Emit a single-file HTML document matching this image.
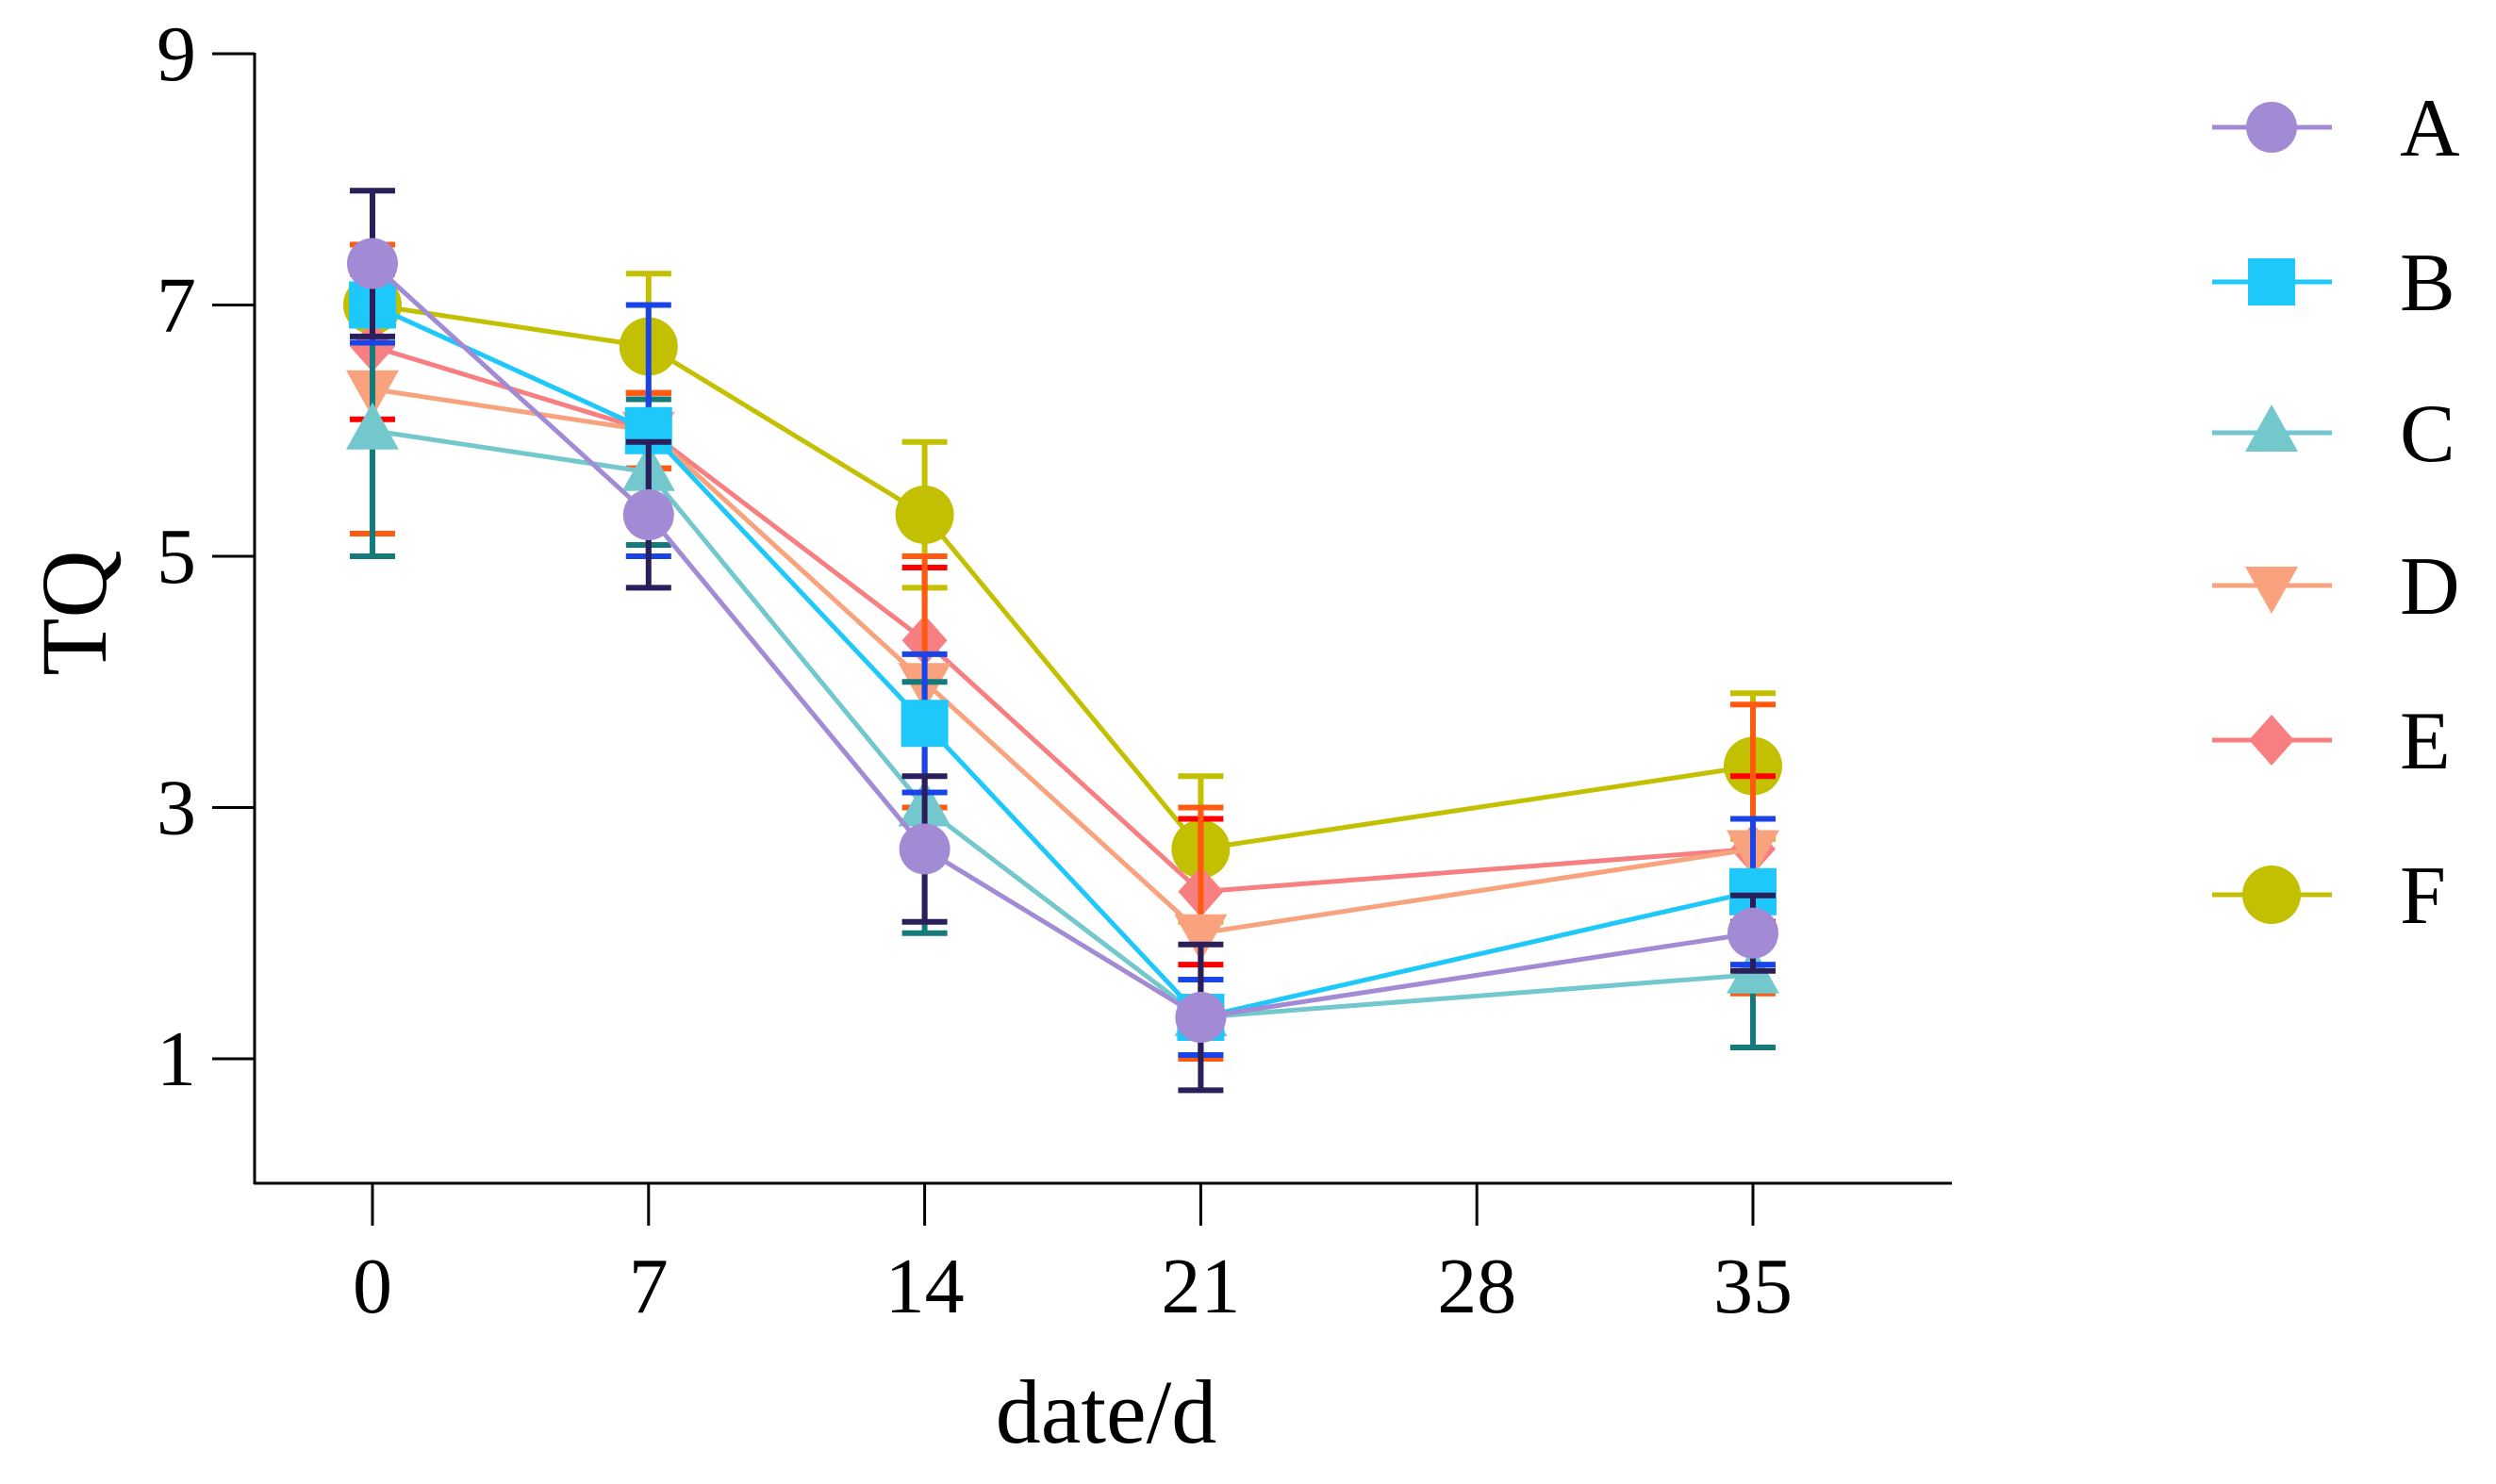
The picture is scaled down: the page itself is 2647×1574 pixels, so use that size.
<!DOCTYPE html>
<html><head><meta charset="utf-8"><style>
html,body{margin:0;padding:0;background:#fff;}
svg text{font-family:"Liberation Serif",serif;fill:#000;}
</style></head><body>
<svg id="chart" width="2647" height="1569" viewBox="0 0 2647 1569" xmlns="http://www.w3.org/2000/svg">
<g id="axes"></g>
<g id="series"></g>
<g id="legend"></g>
</svg>
<script>
const days = [0, 7, 14, 21, 35];
const xTicks = [0, 7, 14, 21, 28, 35];
const yTicks = [1, 3, 5, 7, 9];
const seriesNames = ['A', 'B', 'C', 'D', 'E', 'F'];
const valA = [7.33, 5.33, 2.67, 1.33, 2.0];
const valB = [7.0, 6.0, 3.67, 1.33, 2.33];
const valC = [6.0, 5.67, 3.0, 1.33, 1.67];
const valD = [6.33, 6.0, 4.0, 2.0, 2.67];
const valE = [6.67, 6.0, 4.33, 2.33, 2.67];
const valF = [7.0, 6.67, 5.33, 2.67, 3.33];
const errA = [0.58, 0.58, 0.58, 0.58, 0.3];
const errB = [0.3, 1.0, 0.55, 0.3, 0.58];
const errC = [1.0, 0.58, 1.0, 0.3, 0.58];
const errD = [1.15, 0.3, 1.0, 1.0, 1.15];
const errE = [0.58, 0.3, 0.58, 0.58, 0.58];
const errF = [0.3, 0.58, 0.58, 0.58, 0.58];

const NS = 'http://www.w3.org/2000/svg';
const X0 = 395, XPU = (1859 - 395) / 35;
const Y9 = 57, Y1 = 1123, YPU = (Y1 - Y9) / 8;
const xs = d => X0 + d * XPU;
const ys = v => Y1 - (v - 1) * YPU;
function mk(tag, attrs, parent) {
  const e = document.createElementNS(NS, tag);
  for (const k in attrs) e.setAttribute(k, attrs[k]);
  parent.appendChild(e);
  return e;
}
const axes = document.getElementById('axes');
let el;
el = mk('line', {x1: 270, y1: 56, x2: 270, y2: 1256, stroke: '#000', 'stroke-width': 3}, axes);


el = mk('line', {x1: 269, y1: 1255, x2: 2070, y2: 1255, stroke: '#000', 'stroke-width': 3}, axes);


yTicks.forEach(t => {
  const y = ys(t);
  const tk = mk('line', {x1: 225, y1: y, x2: 270, y2: y, stroke: '#000', 'stroke-width': 3}, axes);
  
  
  const tx = mk('text', {x: 208, y: y + 28, 'font-size': 84, 'text-anchor': 'end'}, axes);
  tx.textContent = t;
  
  
});
xTicks.forEach(t => {
  const x = xs(t);
  const tk = mk('line', {x1: x, y1: 1255, x2: x, y2: 1300, stroke: '#000', 'stroke-width': 3}, axes);
  
  
  const tx = mk('text', {x: x, y: 1392, 'font-size': 84, 'text-anchor': 'middle'}, axes);
  tx.textContent = t;
  
  
});
el = mk('text', {x: 1173, y: 1530, 'font-size': 96, 'text-anchor': 'middle'}, axes);
el.textContent = 'date/d';


el = mk('text', {x: 0, y: 0, 'font-size': 100, 'text-anchor': 'middle', transform: 'translate(112,650) rotate(-90)'}, axes);
el.textContent = 'TQ';



const vals = {A: valA, B: valB, C: valC, D: valD, E: valE, F: valF};
const errs = {A: errA, B: errB, C: errC, D: errD, E: errE, F: errF};
const colors = {A: '#a28bd4', B: '#1ec8fa', C: '#72c8cc', D: '#f9a27e', E: '#f77f82', F: '#c2c000'};
const errColors = {A: '#2a1f5a', B: '#1a44e8', C: '#157a7a', D: '#ff5a10', E: '#ff0000', F: '#c2c000'};
const shapes = {A: 'circle', B: 'square', C: 'tri-up', D: 'tri-down', E: 'diamond', F: 'bigcircle'};

function marker(shape, cx, cy, color, parent) {
  if (shape === 'circle') return mk('circle', {cx, cy, r: 27, fill: color}, parent);
  if (shape === 'bigcircle') return mk('circle', {cx, cy, r: 31, fill: color}, parent);
  if (shape === 'square') return mk('rect', {x: cx - 25, y: cy - 25, width: 50, height: 50, fill: color}, parent);
  if (shape === 'tri-up') return mk('polygon', {points: `${cx},${cy - 30} ${cx + 28},${cy + 20} ${cx - 28},${cy + 20}`, fill: color}, parent);
  if (shape === 'tri-down') return mk('polygon', {points: `${cx},${cy + 30} ${cx + 28},${cy - 20} ${cx - 28},${cy - 20}`, fill: color}, parent);
  return mk('polygon', {points: `${cx},${cy - 27} ${cx + 24},${cy} ${cx},${cy + 27} ${cx - 24},${cy}`, fill: color}, parent);
}

const sg = document.getElementById('series');
['F', 'E', 'D', 'C', 'B', 'A'].forEach(n => {
  const g = mk('g', {}, sg);
  
  
  const v = vals[n], e = errs[n];
  const pts = days.map((d, i) => xs(d) + ',' + ys(v[i])).join(' ');
  const ln = mk('polyline', {points: pts, fill: 'none', stroke: colors[n], 'stroke-width': 5}, g);
  
  
  days.forEach((d, i) => {
    const x = xs(d), yt = ys(v[i] + e[i]), yb = ys(v[i] - e[i]);
    const eb = mk('path', {d: `M${x},${yt}V${yb}M${x - 24},${yt}H${x + 24}M${x - 24},${yb}H${x + 24}`, stroke: errColors[n], 'stroke-width': 6, fill: 'none'}, g);
    
    
  });
  days.forEach((d, i) => {
    const m = marker(shapes[n], xs(d), ys(v[i]), colors[n], g);
    
    
  });
});

const lg = document.getElementById('legend');
const legY = [135, 299, 459, 621, 785, 949];
seriesNames.forEach((n, i) => {
  const g = mk('g', {}, lg);
  
  
  const y = legY[i];
  mk('line', {x1: 2346, y1: y, x2: 2473, y2: y, stroke: colors[n], 'stroke-width': 5}, g);
  marker(shapes[n], 2409, y, colors[n], g);
  const t = mk('text', {x: 2545, y: y + 30, 'font-size': 88}, g);
  t.textContent = n;
});
</script>
</body></html>
